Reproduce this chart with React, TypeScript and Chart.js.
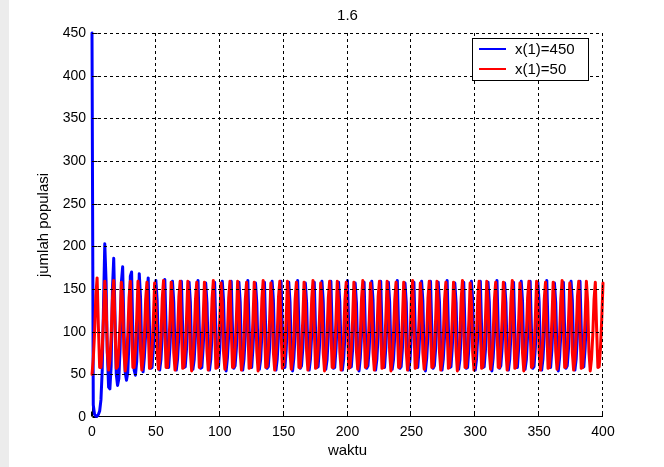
import React, { useEffect, useRef } from "react";
import { Chart, registerables } from "chart.js";

Chart.register(...registerables);

const TITLE = "1.6";
const X_TITLE = "waktu";
const Y_TITLE = "jumlah populasi";
const SERIES_NAMES = ["x(1)=450", "x(1)=50"];
const SERIES_COLORS = ["#0000ff", "#ff0000"];
const X_TICKS = [0, 50, 100, 150, 200, 250, 300, 350, 400];
const Y_TICKS = [0, 50, 100, 150, 200, 250, 300, 350, 400, 450];

// population, start x(1)=450 (blue), t = 0..400
const popStart450 = [
  450, 14, 3, 1, 1, 3, 7, 20, 55, 130, 203, 160, 75,
  35, 33, 60, 150, 186, 120, 50,
  37, 45, 80, 158, 176, 105, 52,
  43, 52, 90, 165, 170, 95, 55,
  49, 65, 110, 168, 140, 72, 53,
  70, 97, 140, 163, 106, 57, 58, 80, 115, 160, 137, 76,
  55, 68, 96, 140, 161, 104, 58, 58, 81, 114, 159, 135, 76,
  55, 68, 96, 139, 159, 103, 58, 59, 80, 114, 158, 135, 76,
  56, 67, 95, 138, 160, 104, 57, 58, 81, 113, 157, 134, 75,
  55, 68, 97, 140, 158, 102, 58, 59, 79, 115, 159, 136, 77,
  54, 69, 96, 139, 159, 103, 57, 60, 80, 114, 158, 135, 76,
  55, 68, 95, 138, 160, 104, 58, 58, 81, 113, 157, 134, 75,
  56, 67, 97, 141, 158, 101, 57, 59, 80, 116, 159, 137, 77,
  55, 68, 96, 139, 159, 103, 58, 58, 79, 114, 158, 135, 76,
  54, 69, 95, 138, 160, 104, 57, 60, 80, 113, 157, 134, 75,
  55, 68, 97, 140, 158, 102, 58, 59, 81, 115, 159, 136, 77,
  56, 67, 96, 139, 159, 103, 57, 58, 80, 114, 158, 135, 76,
  55, 68, 95, 138, 160, 104, 58, 59, 79, 113, 157, 134, 75,
  54, 69, 97, 141, 158, 101, 57, 60, 80, 116, 159, 137, 77,
  55, 68, 96, 139, 159, 103, 58, 58, 81, 114, 158, 135, 76,
  56, 67, 95, 138, 160, 104, 57, 59, 80, 113, 157, 134, 75,
  55, 68, 97, 140, 158, 102, 58, 58, 79, 115, 159, 136, 77,
  54, 69, 96, 139, 159, 103, 57, 60, 80, 114, 158, 135, 76,
  55, 68, 95, 138, 160, 104, 58, 59, 81, 113, 157, 134, 75,
  56, 67, 97, 141, 158, 101, 57, 58, 80, 116, 159, 137, 77,
  55, 68, 96, 139, 159, 103, 58, 59, 79, 114, 158, 135, 76,
  54, 69, 95, 138, 160, 104, 57, 60, 80, 113, 157, 134, 75,
  55, 68, 97, 140, 158, 102, 58, 58, 81, 115, 159, 136, 77,
  56, 67, 96, 139, 159, 103, 57, 59, 80, 114, 158, 135, 76,
  55, 68, 95, 138, 160, 104, 58, 58, 79, 113, 157, 134, 75,
  54, 69, 97, 141, 158, 101, 57, 60, 80, 116, 159, 137, 77,
  55, 68, 96, 139, 159, 103, 58, 59, 80, 114,
];

// population, start x(1)=50 (red), t = 0..400
const popStart50 = [
  50, 68, 98, 142, 163, 106, 58, 58, 80, 115, 159, 136, 76,
  55, 67, 95, 138, 160, 104, 57, 59, 81, 113, 158, 134, 75,
  54, 68, 97, 140, 159, 102, 58, 58, 79, 115, 159, 136, 77,
  55, 69, 96, 138, 158, 104, 57, 59, 80, 114, 157, 135, 76,
  56, 68, 95, 139, 160, 103, 58, 58, 81, 113, 158, 134, 75,
  55, 67, 97, 141, 159, 101, 57, 59, 80, 116, 159, 135, 76,
  54, 68, 96, 138, 158, 104, 58, 60, 79, 114, 158, 137, 77,
  55, 69, 95, 139, 160, 103, 57, 58, 80, 113, 157, 134, 75,
  56, 68, 97, 140, 159, 102, 58, 59, 81, 115, 159, 135, 76,
  55, 67, 96, 138, 158, 104, 57, 58, 80, 114, 158, 136, 77,
  54, 68, 95, 139, 160, 103, 58, 59, 79, 113, 157, 134, 75,
  55, 69, 97, 141, 159, 101, 57, 60, 80, 116, 159, 135, 76,
  56, 68, 96, 138, 158, 104, 58, 58, 81, 114, 158, 137, 77,
  55, 67, 95, 139, 160, 103, 57, 59, 80, 113, 157, 134, 75,
  54, 68, 97, 140, 159, 102, 58, 58, 79, 115, 159, 135, 76,
  55, 69, 96, 138, 158, 104, 57, 59, 80, 114, 158, 136, 77,
  56, 68, 95, 139, 160, 103, 58, 60, 81, 113, 157, 134, 75,
  55, 67, 97, 141, 159, 101, 57, 58, 80, 116, 159, 135, 76,
  54, 68, 96, 138, 158, 104, 58, 59, 79, 114, 158, 137, 77,
  55, 69, 95, 139, 160, 103, 57, 58, 80, 113, 157, 134, 75,
  56, 68, 97, 140, 159, 102, 58, 59, 81, 115, 159, 135, 76,
  55, 67, 96, 138, 158, 104, 57, 60, 80, 114, 158, 136, 77,
  54, 68, 95, 139, 160, 103, 58, 58, 79, 113, 157, 134, 75,
  55, 69, 97, 141, 159, 101, 57, 59, 80, 116, 159, 135, 76,
  56, 68, 96, 138, 158, 104, 58, 58, 81, 114, 158, 137, 77,
  55, 67, 95, 139, 160, 103, 57, 59, 80, 113, 157, 134, 75,
  54, 68, 97, 140, 159, 102, 58, 60, 79, 115, 159, 135, 76,
  55, 69, 96, 138, 158, 104, 57, 58, 80, 114, 158, 136, 77,
  56, 68, 95, 139, 160, 103, 58, 59, 81, 113, 157, 134, 75,
  55, 67, 97, 141, 159, 101, 57, 58, 80, 116, 159, 135, 76,
  54, 68, 96, 138, 158, 104, 58, 59, 80, 114, 157,
];

const FONT = "'Liberation Sans', Arial, Helvetica, sans-serif";

export default function App() {
  const canvasRef = useRef<HTMLCanvasElement | null>(null);

  useEffect(() => {
    const canvas = canvasRef.current;
    if (!canvas) return;

    const matlabPlugin = {
      id: "matlabDecor",
      beforeDraw(chart: any) {
        const ctx = chart.ctx;
        ctx.save();
        ctx.fillStyle = "#ffffff";
        ctx.fillRect(0, 0, chart.width, chart.height);
        // faint page-edge shading at the far left
        ctx.fillStyle = "#ececec";
        ctx.fillRect(0, 0, 9, chart.height);
        ctx.restore();
      },
      beforeDatasetsDraw(chart: any) {
        const { ctx, chartArea: a, scales } = chart;
        const xs = scales.x;
        const ys = scales.y;
        const L = Math.round(a.left) + 0.5;
        const B = Math.round(a.bottom) - 0.5;
        ctx.save();
        ctx.strokeStyle = "#000";
        ctx.lineWidth = 1;
        ctx.beginPath();
        ctx.moveTo(L, a.top);
        ctx.lineTo(L, B);
        ctx.lineTo(a.right, B);
        X_TICKS.forEach((v) => {
          const px = Math.round(xs.getPixelForValue(v)) - 0.5;
          ctx.moveTo(px, B);
          ctx.lineTo(px, B - 5);
        });
        Y_TICKS.forEach((v) => {
          const py = Math.round(ys.getPixelForValue(v)) + 0.5;
          ctx.moveTo(L, py);
          ctx.lineTo(L + 5, py);
        });
        ctx.stroke();
        ctx.restore();
      },
      afterDatasetsDraw(chart: any) {
        const { ctx, chartArea: a, scales } = chart;
        const xs = scales.x;
        const ys = scales.y;
        ctx.save();
        // dotted grid
        ctx.strokeStyle = "#000";
        ctx.lineWidth = 1;
        ctx.setLineDash([3, 3]);
        ctx.beginPath();
        X_TICKS.forEach((v, i) => {
          if (i === 0) return;
          const px = Math.round(xs.getPixelForValue(v)) - 0.5;
          ctx.moveTo(px, a.top);
          ctx.lineTo(px, a.bottom);
        });
        Y_TICKS.forEach((v, i) => {
          if (i === 0) return;
          const py = Math.round(ys.getPixelForValue(v)) + 0.5;
          ctx.moveTo(a.left, py);
          ctx.lineTo(a.right, py);
        });
        ctx.stroke();
        ctx.setLineDash([]);

        // legend
        const lw = 116;
        const lh = 42;
        const lx = Math.round(a.right) - 131;
        const ly = Math.round(a.top) + 5;
        ctx.fillStyle = "#fff";
        ctx.fillRect(lx, ly, lw, lh);
        ctx.strokeStyle = "#000";
        ctx.lineWidth = 1;
        ctx.strokeRect(lx + 0.5, ly + 0.5, lw, lh);
        ctx.font = `15px ${FONT}`;
        ctx.textAlign = "left";
        ctx.textBaseline = "middle";
        SERIES_NAMES.forEach((name, i) => {
          const yy = ly + 11 + i * 20;
          ctx.strokeStyle = SERIES_COLORS[i];
          ctx.lineWidth = 2;
          ctx.beginPath();
          ctx.moveTo(lx + 7, yy);
          ctx.lineTo(lx + 34, yy);
          ctx.stroke();
          ctx.fillStyle = "#000";
          ctx.fillText(name, lx + 43, yy + 1);
        });

        // titles
        const cx = (a.left + a.right) / 2;
        const cy = (a.top + a.bottom) / 2;
        ctx.fillStyle = "#000";
        ctx.textAlign = "center";
        ctx.textBaseline = "middle";
        ctx.font = `15px ${FONT}`;
        ctx.fillText(TITLE, cx, 16);
        ctx.fillText(X_TITLE, cx, a.bottom + 34);
        ctx.save();
        ctx.translate(44, cy);
        ctx.rotate(-Math.PI / 2);
        ctx.fillText(Y_TITLE, 0, 0);
        ctx.restore();
        ctx.restore();
      },
    };

    const lineStyle = {
      borderWidth: 3,
      pointRadius: 0,
      tension: 0,
      fill: false,
      borderJoinStyle: "round" as const,
      borderCapStyle: "round" as const,
      clip: { left: 3, top: 3, right: 2, bottom: 3 },
    };

    const chart = new Chart(canvas, {
      type: "line",
      data: {
        datasets: [
          {
            label: SERIES_NAMES[0],
            data: popStart450.map((y, i) => ({ x: i, y })),
            borderColor: SERIES_COLORS[0],
            order: 2,
            ...lineStyle,
          },
          {
            label: SERIES_NAMES[1],
            data: popStart50.map((y, i) => ({ x: i, y })),
            borderColor: SERIES_COLORS[1],
            order: 1,
            ...lineStyle,
          },
        ],
      },
      options: {
        responsive: false,
        animation: false,
        devicePixelRatio: 1,
        events: [],
        layout: { padding: { left: 0, top: 33, right: 61, bottom: 0 } },
        plugins: {
          legend: { display: false },
          title: { display: false },
          tooltip: { enabled: false },
        },
        scales: {
          x: {
            type: "linear",
            min: 0,
            max: 400,
            afterBuildTicks: (s: any) => {
              s.ticks = X_TICKS.map((v) => ({ value: v }));
            },
            afterFit: (s: any) => {
              s.height = 50;
            },
            grid: { display: false, drawTicks: false },
            border: { display: false },
            ticks: {
              color: "#000",
              font: { family: FONT, size: 14 },
              padding: 7,
              maxRotation: 0,
              autoSkip: false,
            },
          },
          y: {
            type: "linear",
            min: 0,
            max: 450,
            afterBuildTicks: (s: any) => {
              s.ticks = Y_TICKS.map((v) => ({ value: v }));
            },
            afterFit: (s: any) => {
              s.width = 92;
            },
            grid: { display: false, drawTicks: false },
            border: { display: false },
            ticks: {
              color: "#000",
              font: { family: FONT, size: 14 },
              padding: 6,
              autoSkip: false,
            },
          },
        },
      },
      plugins: [matlabPlugin],
    });

    return () => chart.destroy();
  }, []);

  return (
    <div style={{ position: "fixed", left: 0, top: 0, width: 664, height: 467, background: "#fff" }}>
      <canvas ref={canvasRef} width={664} height={467} style={{ display: "block" }} />
    </div>
  );
}
